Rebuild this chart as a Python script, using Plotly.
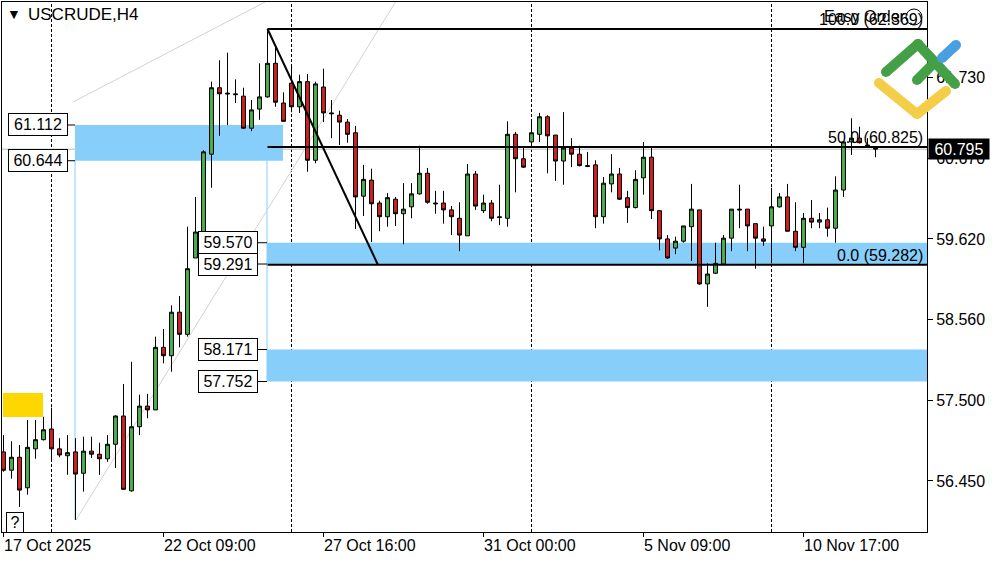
import plotly.graph_objects as go

# ---------------- data ----------------
bar_index = list(range(110))
opens = [56.83, 56.59, 56.76, 56.36, 56.87, 56.99, 57.13, 56.87, 56.78, 56.83,
         56.55, 56.84, 56.80, 56.74, 56.93, 57.30, 56.32, 57.16, 57.43, 57.38,
         58.20, 58.09, 58.66, 58.37, 59.37, 59.71, 60.73, 61.60, 61.53, 61.52,
         61.49, 61.07, 61.32, 61.48, 61.92, 61.40, 61.66, 61.35, 61.68, 60.65,
         61.61, 61.27, 61.24, 61.15, 61.01, 60.18, 60.39, 60.09, 59.91, 60.14,
         59.95, 60.04, 60.21, 60.48, 60.09, 60.09, 60.00, 59.89, 59.66, 60.47,
         59.99, 60.09, 59.91, 59.89, 60.99, 60.67, 60.89, 60.99, 61.22, 60.98,
         60.64, 60.81, 60.73, 60.58, 60.59, 59.91, 60.34, 60.47, 60.16, 60.03,
         60.42, 60.69, 59.99, 59.62, 59.50, 59.59, 59.78, 60.00, 59.03, 59.17,
         59.29, 59.63, 60.01, 60.01, 59.82, 59.62, 59.79, 60.04, 60.17, 59.72,
         59.51, 59.89, 59.84, 59.87, 59.76, 60.26, 60.89, 60.94, 60.85, 60.82]
highs = [57.05, 56.97, 56.92, 57.25, 57.25, 57.29, 57.41, 57.01, 57.05, 57.01,
         57.03, 57.03, 56.95, 57.05, 57.31, 57.72, 58.01, 57.58, 57.59, 58.34,
         58.44, 58.75, 58.87, 59.78, 60.17, 60.78, 61.68, 61.96, 62.06, 61.71,
         61.60, 61.44, 61.92, 62.369, 62.16, 61.54, 61.90, 61.77, 61.78, 61.68,
         61.85, 61.44, 61.30, 61.19, 61.10, 60.59, 60.54, 60.12, 60.22, 60.17,
         60.35, 60.35, 60.84, 60.55, 60.25, 60.25, 60.05, 60.10, 60.60, 60.51,
         60.20, 60.13, 60.33, 61.16, 61.02, 60.82, 61.15, 61.27, 61.24, 60.98,
         61.28, 60.94, 60.84, 60.76, 60.65, 60.43, 60.73, 60.55, 60.25, 60.52,
         60.89, 60.82, 59.99, 59.67, 59.65, 59.79, 60.34, 60.00, 59.30, 59.57,
         59.67, 60.01, 60.33, 60.01, 59.82, 59.78, 60.29, 60.22, 60.34, 60.10,
         59.96, 60.13, 59.96, 60.03, 60.44, 60.89, 61.20, 61.09, 60.94, 60.83]
lows = [56.57, 56.48, 56.11, 56.27, 56.74, 56.98, 56.72, 56.76, 56.53, 55.94,
        56.31, 56.75, 56.53, 56.70, 56.62, 56.34, 56.31, 57.05, 57.27, 57.38,
        57.99, 57.88, 58.20, 58.34, 59.37, 59.71, 60.29, 60.97, 61.11, 61.40,
        61.06, 61.03, 61.18, 61.47, 61.35, 61.16, 61.28, 61.27, 60.50, 60.61,
        61.15, 60.94, 60.85, 60.88, 59.75, 59.92, 59.58, 59.72, 59.78, 59.79,
        59.55, 59.89, 60.20, 60.08, 59.95, 59.82, 59.67, 59.46, 59.66, 60.00,
        59.96, 59.85, 59.80, 59.78, 60.23, 60.55, 60.82, 60.89, 60.48, 60.38,
        60.33, 60.56, 60.57, 60.56, 59.76, 59.82, 60.23, 60.13, 59.83, 60.02,
        60.20, 59.88, 59.47, 59.36, 59.42, 59.57, 59.33, 59.02, 58.73, 59.16,
        59.29, 59.46, 59.76, 59.46, 59.23, 59.53, 59.30, 60.03, 59.72, 59.46,
        59.30, 59.76, 59.76, 59.65, 59.57, 60.17, 60.72, 60.87, 60.81, 60.69]
closes = [56.59, 56.76, 56.33, 56.89, 56.99, 57.12, 56.87, 56.79, 56.82, 56.54,
          56.84, 56.80, 56.74, 56.93, 57.30, 56.34, 57.16, 57.43, 57.38, 58.20,
          58.09, 58.66, 58.37, 59.23, 59.71, 60.76, 61.60, 61.52, 61.52, 61.51,
          61.07, 61.31, 61.48, 61.92, 61.41, 61.16, 61.35, 61.68, 60.65, 61.65,
          61.27, 61.26, 61.15, 60.99, 60.17, 60.40, 60.08, 59.91, 60.16, 59.95,
          60.01, 60.21, 60.48, 60.10, 60.08, 60.00, 59.91, 59.67, 60.47, 60.05,
          60.09, 59.89, 59.90, 60.99, 60.67, 60.56, 61.01, 61.22, 60.97, 60.64,
          60.81, 60.73, 60.58, 60.57, 59.91, 60.35, 60.47, 60.14, 60.03, 60.40,
          60.69, 59.99, 59.62, 59.37, 59.59, 59.79, 60.01, 59.03, 59.16, 59.30,
          59.63, 60.01, 60.00, 59.79, 59.63, 59.59, 60.04, 60.17, 59.72, 59.51,
          59.89, 59.84, 59.87, 59.76, 60.26, 60.89, 60.94, 60.88, 60.84, 60.795]

date_tick_index = [0, 20, 40, 60, 80, 100]
date_tick_labels = ["17 Oct 2025", "22 Oct 09:00", "27 Oct 16:00",
                    "31 Oct 00:00", "5 Nov 09:00", "10 Nov 17:00"]
separator_index = [6, 36, 66, 96]
price_ticks = [56.45, 57.50, 58.56, 59.62, 60.67, 61.73]

fib_levels = [62.369, 60.825, 59.282]
fib_labels = ["100.0 (62.369)", "50.0 (60.825)", "0.0 (59.282)"]
fib_start_index = 33
fib_diag_index = [33, 46.8]
fib_diag_price = [62.369, 59.282]

zone_x0 = [8.94, 32.94, 32.94]
zone_x1 = [34.94, 116.0, 116.0]
zone_low = [60.644, 59.291, 57.752]
zone_high = [61.112, 59.570, 58.171]
zone_label_values = [61.112, 60.644, 59.570, 59.291, 58.171, 57.752]
zone_label_index = [8.06, 8.06, 31.8, 31.8, 31.8, 31.8]
zone_label_link_end = [8.94, 8.94, 32.94, 32.94, 32.94, 32.94]

zone_edge_index = [8.94, 32.94]
zone_edge_top = [60.644, 61.112]
zone_edge_bottom = [55.94, 57.752]

trend_a_index = [8.69, 32.7]
trend_a_price = [61.413, 62.723]
trend_b_index = [9.06, 49.0]
trend_b_price = [55.938, 62.723]

last_price = 60.795

X_RANGE = [-0.1875, 115.4375]
Y_RANGE = [55.781, 62.723]

FONT = "Liberation Sans"
GREEN = "#4CAF50"
RED = "#CC2222"
ZONE = "#87CEFA"

# plot area in pixels: x 2..927, y 2..532
def px(x):
    return (x - 2) / 925.0

def py(y):
    return (532 - y) / 530.0

fig = go.Figure()
fig.add_trace(go.Candlestick(
    x=bar_index, open=opens, high=highs, low=lows, close=closes,
    increasing=dict(fillcolor=GREEN, line=dict(color="black", width=1)),
    decreasing=dict(fillcolor=RED, line=dict(color="black", width=1)),
    whiskerwidth=0, showlegend=False, hoverinfo="skip"))

shapes = []
for x0, x1, lo, hi in zip(zone_x0, zone_x1, zone_low, zone_high):
    shapes.append(dict(type="rect", xref="x", yref="y", x0=x0, x1=x1, y0=lo, y1=hi,
                       fillcolor=ZONE, line=dict(width=0), layer="below"))
for xi, t, b in zip(zone_edge_index, zone_edge_top, zone_edge_bottom):
    shapes.append(dict(type="line", xref="x", yref="y", x0=xi, x1=xi, y0=b, y1=t,
                       line=dict(color=ZONE, width=1), layer="below"))
for s in separator_index:
    shapes.append(dict(type="line", xref="x", yref="paper", x0=s, x1=s, y0=0, y1=1,
                       line=dict(color="black", width=1, dash="3px,2px"), layer="below"))
shapes.append(dict(type="line", xref="x", yref="y", x0=trend_a_index[0], x1=trend_a_index[1],
                   y0=trend_a_price[0], y1=trend_a_price[1],
                   line=dict(color="#d2d2d2", width=1), layer="below"))
shapes.append(dict(type="line", xref="x", yref="y", x0=trend_b_index[0], x1=trend_b_index[1],
                   y0=trend_b_price[0], y1=trend_b_price[1],
                   line=dict(color="#d2d2d2", width=1), layer="below"))
shapes.append(dict(type="line", xref="paper", yref="y", x0=0, x1=1, y0=last_price, y1=last_price,
                   line=dict(color="#b8b8b8", width=1), layer="below"))
for lv in fib_levels:
    shapes.append(dict(type="line", xref="x", yref="y", x0=fib_start_index, x1=116, y0=lv, y1=lv,
                       line=dict(color="black", width=2)))
shapes.append(dict(type="line", xref="x", yref="y", x0=fib_diag_index[0], x1=fib_diag_index[1],
                   y0=fib_diag_price[0], y1=fib_diag_price[1], line=dict(color="black", width=2)))
for v, xi, xe in zip(zone_label_values, zone_label_index, zone_label_link_end):
    shapes.append(dict(type="line", xref="x", yref="y", x0=xi, x1=xe, y0=v, y1=v,
                       line=dict(color="black", width=1)))
shapes.append(dict(type="rect", xref="paper", yref="paper", x0=px(3), x1=px(43), y0=py(417), y1=py(393),
                   fillcolor="#FFD700", line=dict(width=0)))
shapes.append(dict(type="circle", xref="paper", yref="paper", x0=px(906), x1=px(922), y0=py(25), y1=py(9),
                   line=dict(color="black", width=1)))

logo = [
    ("#43A047", (886, 72), (918, 44)),
    ("#43A047", (918, 44), (955, 84)),
    ("#43A047", (917, 80), (934, 63)),
    ("#4A9FE3", (942, 58), (956, 45)),
    ("#F4CE47", (879, 83), (917, 114)),
    ("#F4CE47", (917, 114), (946, 91)),
]
for col, a, b in logo:
    shapes.append(dict(type="line", xref="paper", yref="paper", x0=px(a[0]), y0=py(a[1]),
                       x1=px(b[0]), y1=py(b[1]), line=dict(color=col, width=10)))
    for p in (a, b):
        shapes.append(dict(type="circle", xref="paper", yref="paper",
                           x0=px(p[0] - 5), x1=px(p[0] + 5), y0=py(p[1] + 5), y1=py(p[1] - 5),
                           fillcolor=col, line=dict(width=0)))

annotations = []
for i, t in zip(date_tick_index, date_tick_labels):
    annotations.append(dict(x=i, xref="x", y=0, yref="paper", text=t, showarrow=False,
                            xanchor="left", yanchor="top", xshift=-2, yshift=-3,
                            font=dict(family=FONT, size=16, color="black")))
for lv, t in zip(fib_levels, fib_labels):
    annotations.append(dict(x=1, xref="paper", y=lv, yref="y", text=t, showarrow=False,
                            xanchor="right", yanchor="bottom", xshift=-2, yshift=-1,
                            font=dict(family=FONT, size=16, color="black")))
annotations.append(dict(x=px(822), xref="paper", y=py(17), yref="paper", text="Easy Order",
                        showarrow=False, xanchor="left", yanchor="middle",
                        font=dict(family=FONT, size=16, color="black")))
for v, xi in zip(zone_label_values, zone_label_index):
    annotations.append(dict(x=xi, xref="x", y=v, yref="y", text=f"{v:.3f}", showarrow=False,
                            xanchor="right", yanchor="middle", width=56, height=19,
                            bgcolor="white", bordercolor="black", borderwidth=1, borderpad=1,
                            font=dict(family=FONT, size=16, color="black")))
annotations.append(dict(x=1, xref="paper", y=last_price, yref="y", text=f"{last_price:.3f}",
                        showarrow=False, xanchor="left", yanchor="middle", xshift=1,
                        width=58, height=18, bgcolor="black", borderpad=1,
                        font=dict(family=FONT, size=16, color="white")))
annotations.append(dict(x=px(5), xref="paper", y=py(14), yref="paper", text="▼", showarrow=False,
                        xanchor="left", yanchor="middle", font=dict(family=FONT, size=14, color="black")))
annotations.append(dict(x=px(26), xref="paper", y=py(15), yref="paper", text="USCRUDE,H4",
                        showarrow=False, xanchor="left", yanchor="middle",
                        font=dict(family=FONT, size=17, color="black")))
annotations.append(dict(x=px(6), xref="paper", y=py(533), yref="paper", text="?", showarrow=False,
                        xanchor="left", yanchor="bottom", width=14, height=17,
                        bgcolor="white", bordercolor="black", borderwidth=1, borderpad=1,
                        font=dict(family=FONT, size=16, color="black")))

fig.update_layout(
    width=1000, height=562,
    margin=dict(l=2, r=73, t=2, b=30),
    paper_bgcolor="white", plot_bgcolor="white",
    font=dict(family=FONT, size=16, color="black"),
    showlegend=False, boxgap=0.3,
    shapes=shapes, annotations=annotations,
    xaxis=dict(range=X_RANGE, showgrid=False, zeroline=False, showline=True, linecolor="black",
               linewidth=1, mirror=True, tickvals=date_tick_index,
               ticktext=[""] * len(date_tick_index), ticks="outside", ticklen=4,
               tickcolor="black", rangeslider=dict(visible=False), fixedrange=True),
    yaxis=dict(range=Y_RANGE, side="right", showgrid=False, zeroline=False, showline=True,
               linecolor="black", linewidth=1, mirror=True, tickvals=price_ticks,
               ticktext=[f"{v:.3f}" for v in price_ticks], ticks="outside", ticklen=5,
               tickcolor="black", tickfont=dict(family=FONT, size=16, color="black"),
               fixedrange=True),
)

fig.write_html("out.html", config={"displayModeBar": False},
               post_script="document.body.style.margin='0px';document.body.style.overflow='hidden';")
